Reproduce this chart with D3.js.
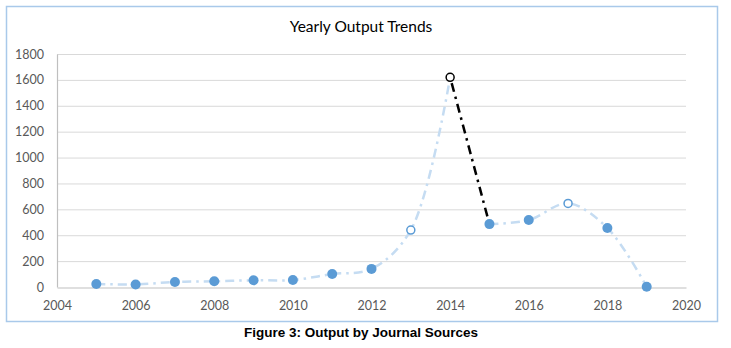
<!DOCTYPE html>
<html>
<head>
<meta charset="utf-8">
<script src="https://cdn.jsdelivr.net/npm/d3@7"></script>
<style>
  body { margin: 0; background: #fff; }
  svg { display: block; }
</style>
</head>
<body>
<div id="chart"></div>
<script>
const years = [2005, 2006, 2007, 2008, 2009, 2010, 2011, 2012, 2013, 2014, 2015, 2016, 2017, 2018, 2019];
const outputs = [23, 20, 39, 44, 52, 54, 100, 140, 440, 1620, 486, 517, 646, 456, 2];
// marker style per point: "fill", "open" (blue ring), "peak" (black ring)
const markerKinds = ["fill", "fill", "fill", "fill", "fill", "fill", "fill", "fill", "open", "peak", "fill", "fill", "open", "fill", "fill"];
const xTicks = [2004, 2006, 2008, 2010, 2012, 2014, 2016, 2018, 2020];
const yTicks = [0, 200, 400, 600, 800, 1000, 1200, 1400, 1600, 1800];

const width = 731, height = 348;
const margin = { top: 54, right: 45, bottom: 61, left: 57 };

const svg = d3.select("#chart").append("svg")
  .attr("width", width)
  .attr("height", height);

// chart frame
svg.append("rect")
  .attr("x", 6.5).attr("y", 6.5)
  .attr("width", 711).attr("height", 315)
  .attr("fill", "#fff")
  .attr("stroke", "#a9c9ea")
  .attr("stroke-width", 1.5);

svg.append("text")
  .attr("x", 361).attr("y", 32)
  .attr("text-anchor", "middle")
  .style("font-family", "Lato, 'Open Sans', sans-serif")
  .style("font-size", "15.5px")
  .style("fill", "#000")
  .text("Yearly Output Trends");

const x = d3.scaleLinear().domain([2004, 2020]).range([margin.left, width - margin.right]);
const y = d3.scaleLinear().domain([0, 1800]).range([height - margin.bottom, margin.top]);

// gridlines
svg.append("g")
  .selectAll("line")
  .data(yTicks.filter(d => d > 0))
  .join("line")
  .attr("x1", x(2004)).attr("x2", x(2020))
  .attr("y1", d => y(d) + 0.5).attr("y2", d => y(d) + 0.5)
  .attr("stroke", "#d9d9d9")
  .attr("stroke-width", 1);

// axes
const yAxis = svg.append("g")
  .attr("transform", `translate(${x(2004)},0)`)
  .call(d3.axisLeft(y).tickValues(yTicks).tickFormat(d3.format("d")).tickSize(0).tickPadding(13));
yAxis.select(".domain").attr("stroke", "#bfbfbf").attr("stroke-width", 1.2);

const xAxis = svg.append("g")
  .attr("transform", `translate(0,${y(0) + 0.5})`)
  .call(d3.axisBottom(x).tickValues(xTicks).tickFormat(d3.format("d")).tickSize(0).tickPadding(14));
xAxis.select(".domain").attr("stroke", "#bfbfbf").attr("stroke-width", 1.2);

svg.selectAll(".tick text")
  .style("font-family", "Lato, 'Open Sans', sans-serif")
  .style("font-size", "12.5px")
  .style("fill", "#595959");

const pts = years.map((yr, i) => ({ year: yr, value: outputs[i], kind: markerKinds[i] }));
const line = d3.line()
  .x(d => x(d.year))
  .y(d => y(d.value))
  .curve(d3.curveCatmullRom.alpha(0.5));

const peakIdx = outputs.indexOf(d3.max(outputs));

// light blue smoothed line, split around the highlighted drop
[pts.slice(0, peakIdx + 1), pts.slice(peakIdx + 1)].forEach(seg => {
  svg.append("path")
    .datum(seg)
    .attr("d", line)
    .attr("fill", "none")
    .attr("stroke", "#c5dcf2")
    .attr("stroke-width", 2.5)
    .attr("stroke-dasharray", "9,5,2.5,5");
});

// black dash-dot drop segment
svg.append("path")
  .datum(pts.slice(peakIdx, peakIdx + 2))
  .attr("d", line)
  .attr("fill", "none")
  .attr("stroke", "#000")
  .attr("stroke-width", 2.5)
  .attr("stroke-dasharray", "9,5,2.5,5")
  .attr("stroke-dashoffset", -6);

// markers
svg.append("g")
  .selectAll("circle")
  .data(pts)
  .join("circle")
  .attr("cx", d => x(d.year))
  .attr("cy", d => y(d.value))
  .attr("r", d => d.kind === "fill" ? 5 : 4)
  .attr("fill", d => d.kind === "fill" ? "#5b9bd5" : "#fff")
  .attr("stroke", d => d.kind === "peak" ? "#000" : "#5b9bd5")
  .attr("stroke-width", d => d.kind === "fill" ? 0 : 1.5);

svg.append("text")
  .attr("x", 361).attr("y", 337)
  .attr("text-anchor", "middle")
  .style("font-family", "'Liberation Sans', Arial, sans-serif")
  .style("font-weight", "bold")
  .style("font-size", "13.5px")
  .style("fill", "#000")
  .text("Figure 3: Output by Journal Sources");
</script>
</body>
</html>
